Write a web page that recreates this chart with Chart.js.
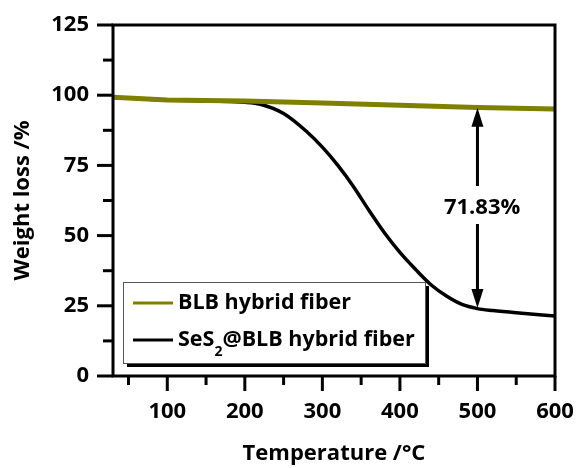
<!DOCTYPE html>
<html>
<head>
<meta charset="utf-8">
<script src="https://cdn.jsdelivr.net/npm/chart.js@4.4.1/dist/chart.umd.min.js"></script>
<style>
  html, body { margin: 0; padding: 0; background: #fff; }
  canvas { display: block; }
</style>
</head>
<body>
<canvas id="tga-chart" width="577" height="468"></canvas>
<script>
// BLB hybrid fiber (olive)
const blbTemps = [30, 100, 200, 300, 400, 500, 600];
const blbWeight = [99.3, 98.3, 97.9, 97.2, 96.4, 95.6, 95.1];

// SeS2@BLB hybrid fiber (black)
const sesTemps = [30, 100, 200, 220, 250, 280, 300, 320, 340, 360, 380, 400, 420, 440, 460, 480, 500, 520, 550, 600];
const sesWeight = [99.3, 98.3, 97.5, 96.8, 93.5, 87, 81.5, 75, 67.5, 59, 51, 44, 38, 32.5, 28.5, 25.5, 24, 23.3, 22.5, 21.4];

const seriesLabels = ['BLB hybrid fiber', 'SeS₂@BLB hybrid fiber'];
const seriesColors = ['#808000', '#000000'];

// axis ticks
const xMajorTicks = [100, 200, 300, 400, 500, 600];
const xMinorTicks = [50, 150, 250, 350, 450, 550];
const yMajorTicks = [0, 25, 50, 75, 100, 125];
const yMinorTicks = [12.5, 37.5, 62.5, 87.5, 112.5];

// weight-loss annotation
const arrowTemp = 500;
const arrowTop = 95.5;
const arrowBottom = 24.2;
const arrowLabel = '71.83%';
const arrowLabelTemp = 506;
const arrowLabelWeight = 59.8;

const FONT = '"Open Sans", Lato, sans-serif';

function toPoints(xs, ys) {
  return xs.map((x, i) => ({ x, y: ys[i] }));
}

const frameAndTicks = {
  id: 'frameAndTicks',
  afterDatasetsDraw(chart) {
    const { ctx, chartArea: a, scales: { x, y } } = chart;
    ctx.save();
    ctx.strokeStyle = '#000';
    ctx.lineWidth = 3;
    ctx.strokeRect(a.left, a.top, a.right - a.left, a.bottom - a.top);

    const seg = (x1, y1, x2, y2) => {
      ctx.beginPath();
      ctx.moveTo(x1, y1);
      ctx.lineTo(x2, y2);
      ctx.stroke();
    };
    xMajorTicks.forEach((v) => { const p = x.getPixelForValue(v); seg(p, a.bottom, p, a.bottom + 15); });
    xMinorTicks.forEach((v) => { const p = x.getPixelForValue(v); seg(p, a.bottom, p, a.bottom + 9); });
    yMajorTicks.forEach((v) => { const p = y.getPixelForValue(v); seg(a.left, p, a.left - 16, p); });
    yMinorTicks.forEach((v) => { const p = y.getPixelForValue(v); seg(a.left, p, a.left - 10, p); });
    ctx.restore();
  }
};

const weightLossArrow = {
  id: 'weightLossArrow',
  afterDatasetsDraw(chart) {
    const { ctx, scales: { x, y } } = chart;
    const px = x.getPixelForValue(arrowTemp);
    const top = y.getPixelForValue(arrowTop);
    const bottom = y.getPixelForValue(arrowBottom);
    const labelX = x.getPixelForValue(arrowLabelTemp);
    const labelY = y.getPixelForValue(arrowLabelWeight);
    const head = 19;
    const half = 6;

    ctx.save();
    ctx.strokeStyle = '#000';
    ctx.fillStyle = '#000';
    ctx.lineWidth = 3;
    ctx.beginPath();
    ctx.moveTo(px, top + head - 2);
    ctx.lineTo(px, labelY - 22);
    ctx.moveTo(px, labelY + 16);
    ctx.lineTo(px, bottom - head + 2);
    ctx.stroke();

    ctx.beginPath();
    ctx.moveTo(px, top);
    ctx.lineTo(px - half, top + head);
    ctx.lineTo(px + half, top + head);
    ctx.closePath();
    ctx.fill();

    ctx.beginPath();
    ctx.moveTo(px, bottom);
    ctx.lineTo(px - half, bottom - head);
    ctx.lineTo(px + half, bottom - head);
    ctx.closePath();
    ctx.fill();

    ctx.font = 'bold 22px ' + FONT;
    ctx.textAlign = 'center';
    ctx.textBaseline = 'middle';
    ctx.fillText(arrowLabel, labelX, labelY);
    ctx.restore();
  }
};

const boxedLegend = {
  id: 'boxedLegend',
  afterDraw(chart) {
    const { ctx, chartArea: a } = chart;
    const left = a.left + 10;
    const top = 282;
    const w = 302;
    const h = 81;

    ctx.save();
    ctx.fillStyle = '#000';
    ctx.fillRect(left + 4, top + 4, w, h);
    ctx.fillStyle = '#fff';
    ctx.fillRect(left, top, w, h);
    ctx.strokeStyle = '#555';
    ctx.lineWidth = 1;
    ctx.strokeRect(left + 0.5, top + 0.5, w, h);

    seriesLabels.forEach((label, i) => {
      const rowY = top + 21 + i * 37;
      ctx.strokeStyle = seriesColors[i];
      ctx.lineWidth = 3;
      ctx.beginPath();
      ctx.moveTo(left + 10, rowY);
      ctx.lineTo(left + 50, rowY);
      ctx.stroke();

      ctx.fillStyle = '#000';
      ctx.textBaseline = 'middle';
      ctx.textAlign = 'left';
      let tx = left + 55;
      const parts = label.split('₂');
      parts.forEach((part, j) => {
        ctx.font = 'bold 21.5px ' + FONT;
        ctx.fillText(part, tx, rowY);
        tx += ctx.measureText(part).width;
        if (j < parts.length - 1) {
          ctx.font = 'bold 14px ' + FONT;
          ctx.fillText('2', tx, rowY + 12);
          tx += ctx.measureText('2').width;
        }
      });
    });
    ctx.restore();
  }
};

new Chart(document.getElementById('tga-chart'), {
  type: 'line',
  data: {
    datasets: [
      {
        label: seriesLabels[0],
        data: toPoints(blbTemps, blbWeight),
        borderColor: seriesColors[0],
        backgroundColor: seriesColors[0],
        borderWidth: 5,
        pointRadius: 0,
        tension: 0
      },
      {
        label: seriesLabels[1],
        data: toPoints(sesTemps, sesWeight),
        borderColor: seriesColors[1],
        backgroundColor: seriesColors[1],
        borderWidth: 3.5,
        pointRadius: 0,
        cubicInterpolationMode: 'monotone'
      }
    ]
  },
  options: {
    responsive: false,
    devicePixelRatio: 1,
    animation: false,
    layout: { padding: { top: 25, right: 22, left: 0, bottom: 0 } },
    plugins: {
      legend: { display: false },
      tooltip: { enabled: false }
    },
    scales: {
      x: {
        type: 'linear',
        min: 30,
        max: 600,
        afterFit: (scale) => {
          scale.height = 92;
          scale.paddingLeft = 0;
          scale.paddingRight = 0;
        },
        grid: { display: false, drawTicks: false },
        border: { display: false },
        ticks: {
          stepSize: 100,
          includeBounds: false,
          padding: 23,
          color: '#000',
          font: { family: FONT, size: 22, weight: 'bold' }
        },
        title: {
          display: true,
          text: 'Temperature /°C',
          color: '#000',
          padding: { top: 0, bottom: 1 },
          font: { family: FONT, size: 22, weight: 'bold' }
        }
      },
      y: {
        type: 'linear',
        min: 0,
        max: 125,
        afterFit: (scale) => {
          scale.width = 113;
          scale.paddingTop = 0;
          scale.paddingBottom = 0;
        },
        grid: { display: false, drawTicks: false },
        border: { display: false },
        ticks: {
          stepSize: 25,
          padding: 24,
          color: '#000',
          font: { family: FONT, size: 22, weight: 'bold' }
        },
        title: {
          display: true,
          text: 'Weight loss /%',
          color: '#000',
          padding: { top: 10, bottom: 0 },
          font: { family: FONT, size: 22, weight: 'bold' }
        }
      }
    }
  },
  plugins: [frameAndTicks, weightLossArrow, boxedLegend]
});
</script>
</body>
</html>
